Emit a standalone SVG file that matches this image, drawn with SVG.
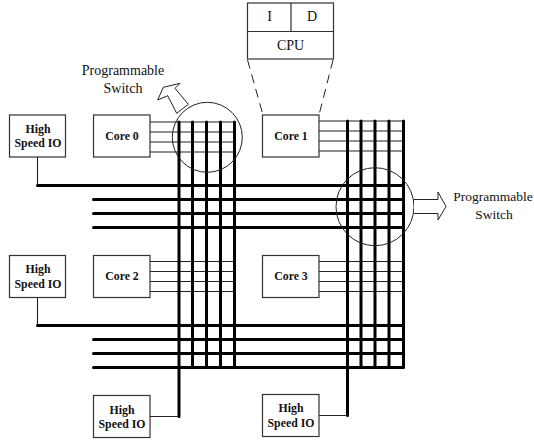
<svg xmlns="http://www.w3.org/2000/svg" width="534" height="440" viewBox="0 0 534 440">
<style>
.box{fill:#fff;stroke:#333;stroke-width:1.2}
.thin{stroke:#222;stroke-width:1.1;fill:none}
.thick{stroke:#000;stroke-width:3;fill:none;stroke-linecap:round}
.out{fill:#fff;stroke:#222;stroke-width:1}
.none{fill:none;stroke:#222;stroke-width:1}
.dash{stroke:#222;stroke-width:1;fill:none;stroke-dasharray:9 6}
text{font-family:"Liberation Serif","Times New Roman",serif;fill:#111;text-anchor:middle}
.b{font-weight:bold;font-size:11.800px}
.r{font-size:14px}
.rs{font-size:13.500px}
</style>
<g id="connectors">
<path class="thin" d="M150 122H234M150 132H234M150 142H234M150 152H234M319 121H403M319 131H403M319 141H403M319 151H403M150 261.500H234M150 271.500H234M150 281.500H234M150 291.500H234M319 261.500H403M319 271.500H403M319 281.500H403M319 291.500H403M37.500 157V185.500M37.500 297V325.500M150 416.500H179M319 415.500H347"/>
<path class="thick" d="M37.500 185.500H403.500M93.500 199.500H403.500M93.500 213.500H403.500M93.500 227.500H403.500M37.500 325.500H403.500M93.500 339.500H403.500M93.500 353.500H403.500M93.500 367.500H403.500M179 122V416.500M192.500 122V367.500M206.500 122V367.500M220.500 122V367.500M234.500 122V367.500M347.500 121V415.500M361 121V367.500M375 121V367.500M389 121V367.500M403.500 121V367.500"/>
<path class="dash" d="M247.500 60L263 115M333 60L319 115"/>
</g>
<g id="switch-0">
<circle class="none" cx="207.300" cy="137.300" r="35"/>
<path class="out" d="M188.300 104.300L176.700 113.300L167.700 95.700L157.700 100L163.300 87.300L180 83.300L175 88.300Z"/>
<text class="r" x="123" y="75">Programmable</text>
<text class="r" x="123" y="92.500">Switch</text>
</g>
<g id="switch-1">
<circle class="none" cx="375" cy="206.700" r="39"/>
<path class="out" d="M414 199.500H438V192L446 206.500L438 220V213.500H414"/>
<text class="rs" x="493" y="201">Programmable</text>
<text class="rs" x="494" y="218.500">Switch</text>
</g>
<g id="cpu">
<rect class="box" x="247.500" y="3" width="86" height="56"/>
<path class="box" d="M247.500 31.500H333.500M291 3V31.500"/>
<text class="r" x="269.500" y="21">I</text>
<text class="r" x="312" y="21">D</text>
<text class="r" x="290.500" y="50">CPU</text>
</g>
<g id="core-0"><rect class="box" x="93.500" y="115" width="56.500" height="42"/><text class="b" x="122" y="140">Core 0</text></g>
<g id="core-1"><rect class="box" x="262.500" y="115" width="56.500" height="42"/><text class="b" x="291" y="140">Core 1</text></g>
<g id="core-2"><rect class="box" x="93.500" y="255.500" width="56.500" height="42"/><text class="b" x="122" y="280">Core 2</text></g>
<g id="core-3"><rect class="box" x="262.500" y="255.500" width="56.500" height="42"/><text class="b" x="291" y="280">Core 3</text></g>
<g id="io-0"><rect class="box" x="9.500" y="115" width="56" height="42"/><text class="b" x="38" y="133">High</text><text class="b" x="38" y="147">Speed IO</text></g>
<g id="io-1"><rect class="box" x="9.500" y="255.500" width="56" height="42"/><text class="b" x="38" y="273">High</text><text class="b" x="38" y="288">Speed IO</text></g>
<g id="io-2"><rect class="box" x="93.500" y="395.500" width="56.500" height="42"/><text class="b" x="122" y="414">High</text><text class="b" x="122" y="428">Speed IO</text></g>
<g id="io-3"><rect class="box" x="262.500" y="394.500" width="56.500" height="42"/><text class="b" x="291" y="412">High</text><text class="b" x="291" y="427">Speed IO</text></g>
</svg>
